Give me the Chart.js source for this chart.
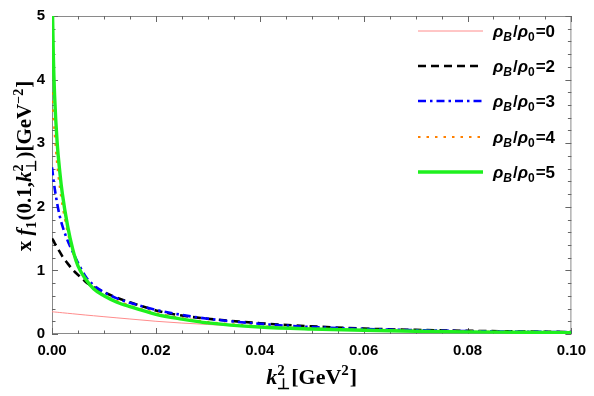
<!DOCTYPE html>
<html>
<head>
<meta charset="utf-8">
<script src="https://cdn.jsdelivr.net/npm/chart.js@4.4.1/dist/chart.umd.min.js"></script>
<style>
  html, body { margin: 0; padding: 0; background: #fff; }
</style>
</head>
<body>
<canvas id="chart" width="594" height="396"></canvas>
<script>
// k_perp^2 sample points [GeV^2]
const kValues = [0, 0.00025, 0.0005, 0.001, 0.0015, 0.002, 0.003, 0.004, 0.005, 0.0065, 0.008, 0.01,
                 0.0125, 0.015, 0.02, 0.025, 0.03, 0.04, 0.05, 0.06, 0.07, 0.08, 0.09, 0.1];

// x f1(0.1, k^2), one array per density
const rho0 = [0.35, 0.348, 0.346, 0.342, 0.338, 0.334, 0.326, 0.318, 0.31, 0.298, 0.287, 0.272,
              0.254, 0.236, 0.2, 0.172, 0.15, 0.108, 0.078, 0.057, 0.042, 0.031, 0.023, 0.017];
const rho2 = [1.5, 1.47, 1.43, 1.36, 1.29, 1.22, 1.11, 1.01, 0.93, 0.82, 0.74, 0.66,
              0.57, 0.5, 0.37, 0.29, 0.24, 0.17, 0.12, 0.085, 0.065, 0.05, 0.04, 0.03];
const rho3 = [2.62, 2.45, 2.3, 2.05, 1.85, 1.7, 1.47, 1.29, 1.12, 0.9, 0.77, 0.66,
              0.56, 0.49, 0.38, 0.3, 0.24, 0.16, 0.11, 0.08, 0.06, 0.045, 0.036, 0.03];
const rho4 = [3.8, 3.45, 3.15, 2.65, 2.3, 2.02, 1.6, 1.29, 1.06, 0.86, 0.72, 0.61,
              0.52, 0.45, 0.33, 0.25, 0.19, 0.125, 0.088, 0.065, 0.05, 0.04, 0.032, 0.026];
const rho5 = [5.5, 4.4, 3.75, 3.0, 2.55, 2.2, 1.7, 1.33, 1.07, 0.86, 0.71, 0.6,
              0.5, 0.43, 0.31, 0.235, 0.175, 0.11, 0.078, 0.058, 0.044, 0.034, 0.027, 0.02];

const densities = ['0', '2', '3', '4', '5'];
const seriesData = [rho0, rho2, rho3, rho4, rho5];
const xTicks = [0, 0.02, 0.04, 0.06, 0.08, 0.1];
const yTicks = [0, 1, 2, 3, 4, 5];

const styles = [
    { color: '#ff8c8c', width: 1, dash: [] },
    { color: '#000000', width: 2.6, dash: [8, 5] },
    { color: '#0000ff', width: 2.6, dash: [8, 4, 2.5, 4] },
    { color: '#ff8000', width: 2, dash: [2.5, 6] },
    { color: '#1ef01e', width: 3.4, dash: [] }
];

const SANS = '"Liberation Sans", Arial, sans-serif';
const SERIF = '"Liberation Serif", "Times New Roman", serif';

// draws text made of pieces with sub/superscripts, returns width
function rich(ctx, parts, x, y, size, fam, draw) {
    let cx = x;
    parts.forEach(p => {
        if (p.t) {
            ctx.font = `${p.i ? 'italic ' : ''}bold ${size}px ${fam}`;
            if (draw) ctx.fillText(p.t, cx, y);
            cx += ctx.measureText(p.t).width;
        } else {
            const s = Math.round(size * 0.68);
            ctx.font = `${p.i ? 'italic ' : ''}bold ${s}px ${fam}`;
            let w = 0;
            if (p.sup) {
                if (draw) ctx.fillText(p.sup, cx, y - size * 0.4);
                w = Math.max(w, ctx.measureText(p.sup).width);
            }
            if (p.sub) {
                if (draw) ctx.fillText(p.sub, cx, y + size * 0.22);
                w = Math.max(w, ctx.measureText(p.sub).width);
            }
            cx += w + 1;
        }
    });
    return cx - x;
}

const yTitle = [{ t: 'x ' }, { t: 'f', i: 1 }, { sub: '1' }, { t: '(0.1,' }, { t: 'k', i: 1 },
                { sup: '2', sub: '\u22A5' }, { t: ')[GeV' }, { sup: '\u22122' }, { t: ']' }];
const xTitle = [{ t: 'k', i: 1 }, { sup: '2', sub: '\u22A5' }, { t: '[GeV' }, { sup: '2' }, { t: ']' }];

const decorations = {
    id: 'decorations',
    beforeDatasetsDraw(chart) {
        const { ctx, chartArea: a, scales: { x, y } } = chart;
        ctx.save();
        ctx.lineWidth = 1;
        ctx.strokeStyle = '#8a8a8a';
        ctx.strokeRect(a.left + 0.5, a.top + 0.5, a.right - a.left - 1, a.bottom - a.top - 1);
        ctx.strokeStyle = '#666';
        ctx.beginPath();
        for (let i = 0; i <= 20; i++) {
            const px = Math.round(x.getPixelForValue(i * 0.005)) + 0.5;
            const len = i % 4 === 0 ? 6 : 3.5;
            ctx.moveTo(px, a.bottom); ctx.lineTo(px, a.bottom - len);
            ctx.moveTo(px, a.top); ctx.lineTo(px, a.top + len);
        }
        for (let i = 0; i <= 25; i++) {
            const py = Math.round(y.getPixelForValue(i * 0.2)) + 0.5;
            const len = i % 5 === 0 ? 6 : 3.5;
            ctx.moveTo(a.left, py); ctx.lineTo(a.left + len, py);
            ctx.moveTo(a.right, py); ctx.lineTo(a.right - len, py);
        }
        ctx.stroke();
        ctx.restore();
    },
    afterDraw(chart) {
        const { ctx, chartArea: a } = chart;
        ctx.save();
        ctx.fillStyle = '#000';
        ctx.textAlign = 'left';
        ctx.textBaseline = 'alphabetic';

        // axis titles
        let w = rich(ctx, xTitle, 0, 0, 22, SERIF, false);
        rich(ctx, xTitle, (a.left + a.right) / 2 - w / 2, 384, 22, SERIF, true);

        w = rich(ctx, yTitle, 0, 0, 21, SERIF, false);
        ctx.translate(31, 166);
        ctx.rotate(-Math.PI / 2);
        rich(ctx, yTitle, -w / 2, 0, 21, SERIF, true);
        ctx.restore();

        // legend
        ctx.save();
        const rows = [31, 66, 101, 137, 172];
        densities.forEach((d, i) => {
            const st = styles[i];
            ctx.strokeStyle = st.color;
            ctx.lineWidth = st.width;
            ctx.setLineDash(st.dash);
            ctx.beginPath();
            ctx.moveTo(418, rows[i]);
            ctx.lineTo(483, rows[i]);
            ctx.stroke();
            ctx.setLineDash([]);
            ctx.fillStyle = '#000';
            const label = [{ t: '\u03C1', i: 1 }, { sub: 'B', i: 1 }, { t: '/' }, { t: '\u03C1', i: 1 },
                           { sub: '0' }, { t: '=' + d }];
            rich(ctx, label, 493, rows[i] + 6, 17, SANS, true);
        });
        ctx.restore();
    }
};

const datasets = seriesData.map((vals, i) => ({
    label: '\u03C1B/\u03C10=' + densities[i],
    data: kValues.map((k, j) => ({ x: k, y: vals[j] })),
    borderColor: styles[i].color,
    borderWidth: styles[i].width,
    borderDash: styles[i].dash,
    pointRadius: 0,
    fill: false,
    cubicInterpolationMode: 'monotone',
    clip: 0,
    order: seriesData.length - i
}));

new Chart(document.getElementById('chart'), {
    type: 'line',
    data: { datasets },
    options: {
        responsive: false,
        animation: false,
        layout: { padding: { top: 10, right: 17, left: 0, bottom: 0 } },
        plugins: { legend: { display: false }, tooltip: { enabled: false } },
        scales: {
            x: {
                type: 'linear',
                min: 0, max: 0.1,
                afterBuildTicks: s => { s.ticks = xTicks.map(v => ({ value: v })); },
                afterFit: s => { s.height = 62; },
                grid: { display: false, drawTicks: false, tickLength: 0 },
                border: { display: false },
                ticks: {
                    padding: 8,
                    color: '#000',
                    font: { family: SANS, size: 15, weight: 'bold' },
                    callback: v => v.toFixed(2)
                }
            },
            y: {
                min: 0, max: 5,
                afterBuildTicks: s => { s.ticks = yTicks.map(v => ({ value: v })); },
                afterFit: s => { s.width = 52; },
                grid: { display: false, drawTicks: false, tickLength: 0 },
                border: { display: false },
                ticks: {
                    padding: 7,
                    color: '#000',
                    font: { family: SANS, size: 15, weight: 'bold' },
                    callback: v => String(v)
                }
            }
        }
    },
    plugins: [decorations]
});
</script>
</body>
</html>
